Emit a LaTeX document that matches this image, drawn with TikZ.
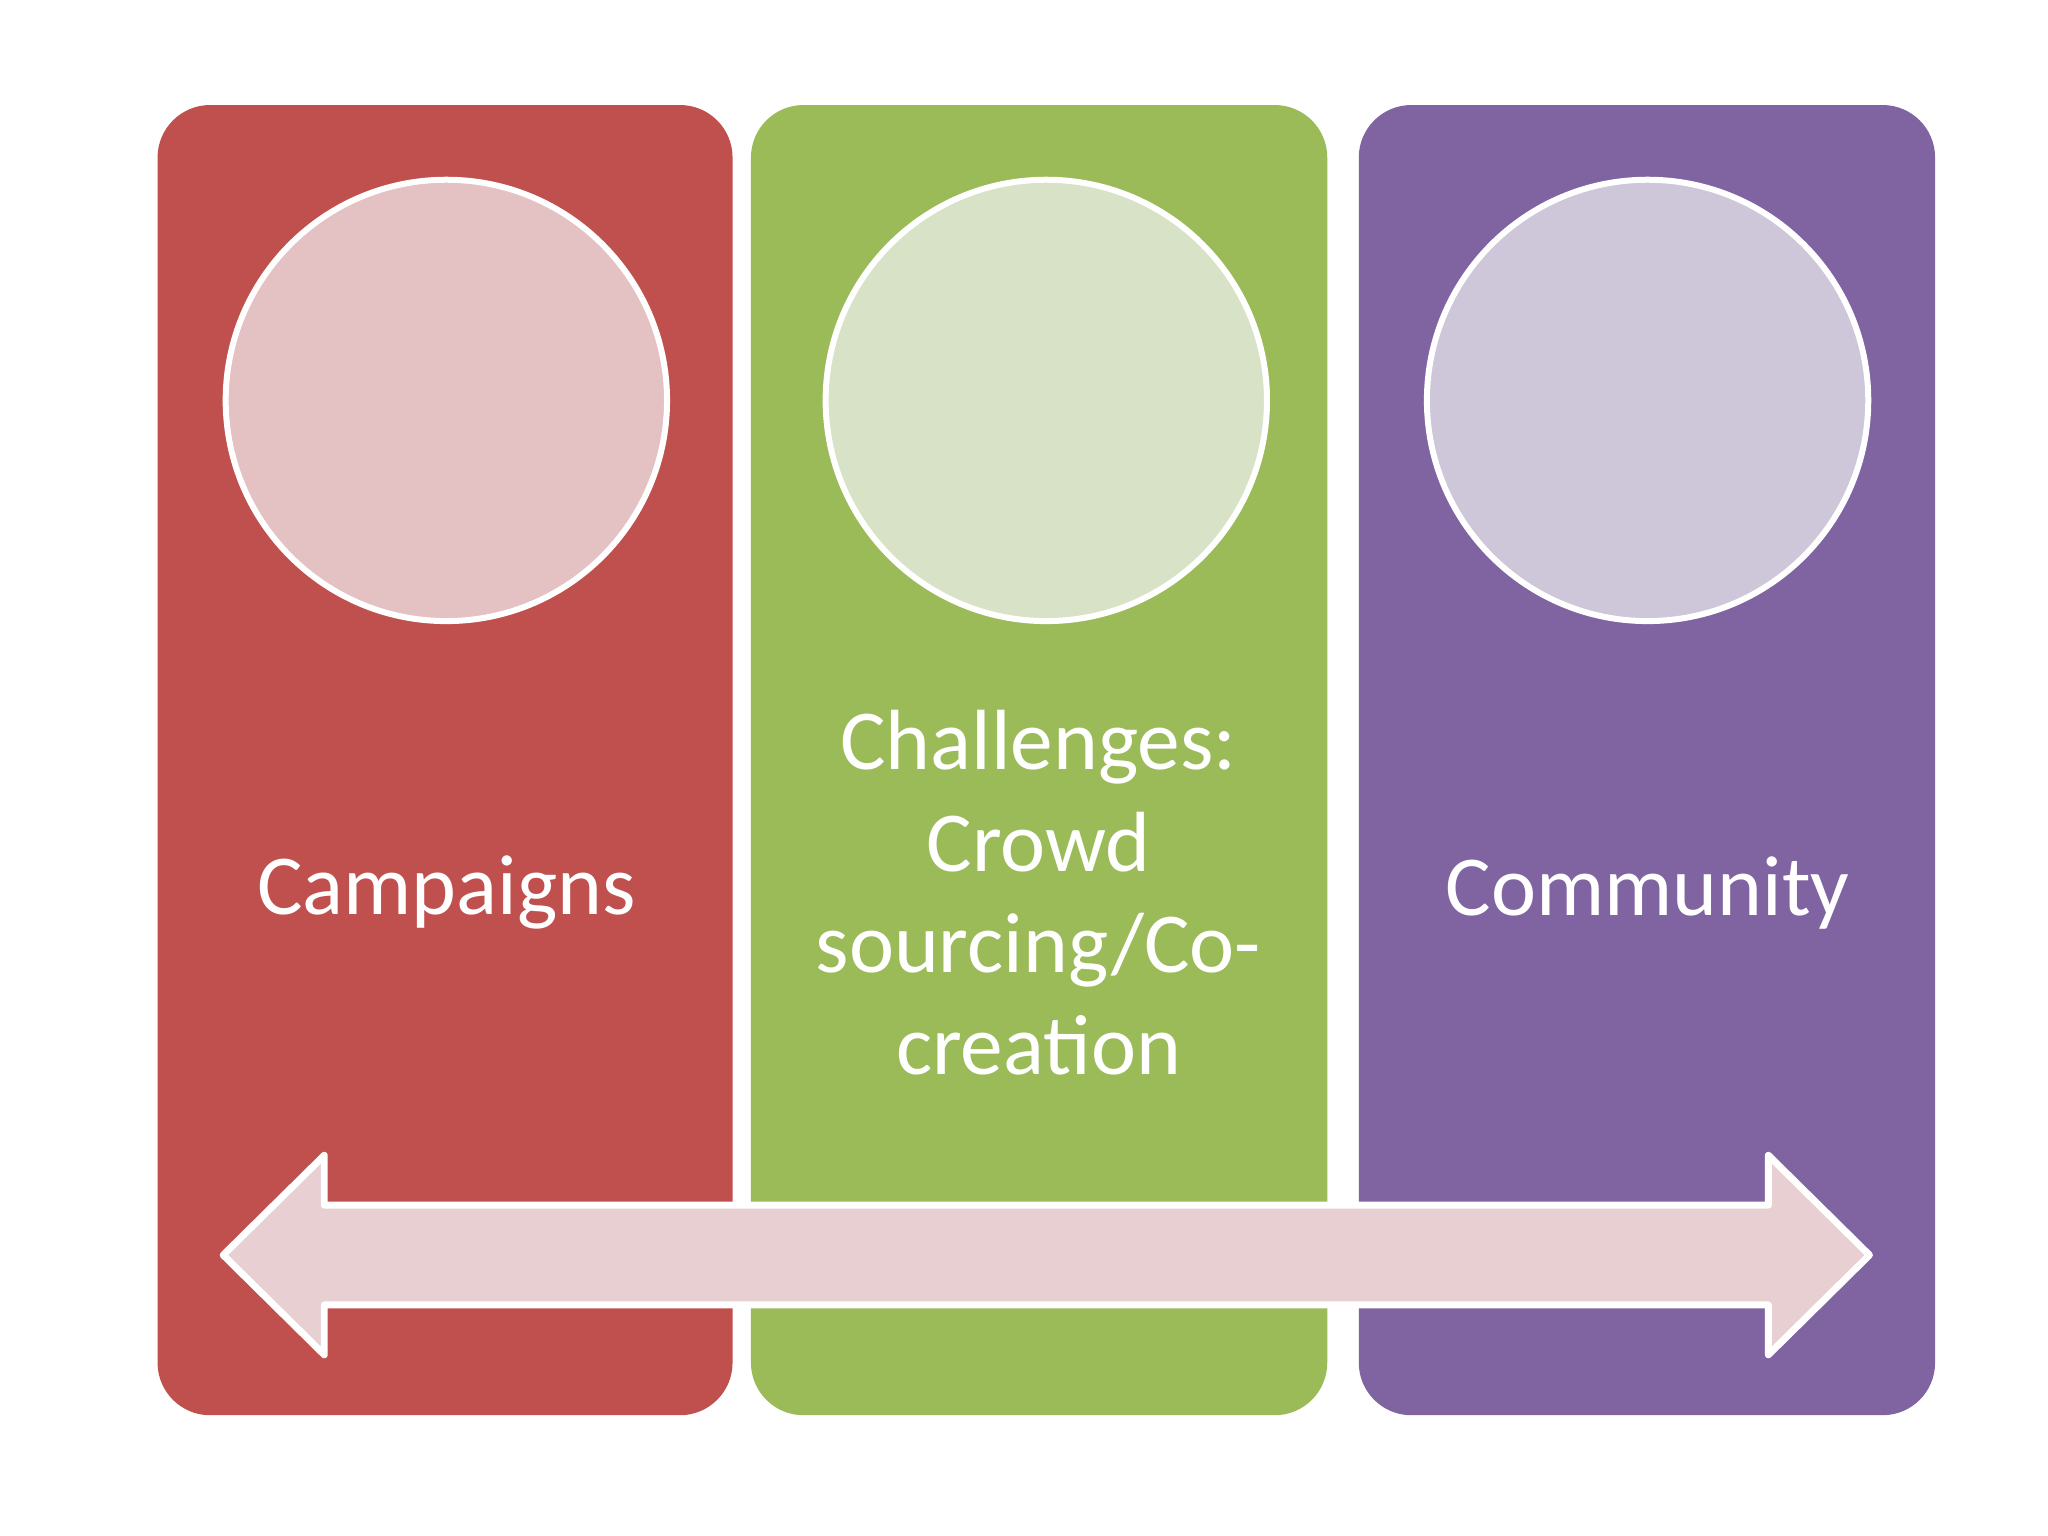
\documentclass[tikz,border=0pt]{standalone}
\usepackage{fontspec}
\setmainfont{Carlito}
\begin{document}
\begin{tikzpicture}[x=0.01cm,y=-0.01cm,
  panel/.style={rounded corners=0.4cm},
  circ/.style={circle,draw=white,line width=1.3pt,minimum size=3.36cm,inner sep=0pt},
  lbl/.style={text=white,font=\fontsize{18.5}{22}\selectfont,align=center}]
\useasboundingbox (0,0) rectangle (1560,1170);
\fill[white] (0,0) rectangle (1560,1170);
\fill[panel,fill={rgb,255:red,192;green,80;blue,77}] (120,80) rectangle (558,1078);
\fill[panel,fill={rgb,255:red,155;green,187;blue,89}] (572,80) rectangle (1011,1078);
\fill[panel,fill={rgb,255:red,128;green,100;blue,162}] (1035,80) rectangle (1474,1078);
\node[circ,fill={rgb,255:red,228;green,193;blue,194}] (c1) at (340,305) {};
\node[circ,fill={rgb,255:red,216;green,226;blue,198}] (c2) at (797,305) {};
\node[circ,fill={rgb,255:red,206;green,198;blue,217}] (c3) at (1255,305) {};
\node[lbl] (t1) at (340,680) {Campaigns};
\node[lbl] (t2) at (791,680) {Challenges:\\Crowd\\sourcing/Co-\\creation};
\node[lbl] (t3) at (1255,680) {Community};
\draw[white,line width=1.5pt,line join=round,fill={rgb,255:red,232;green,208;blue,210}]
 (170,956) -- (247,880) -- (247,918) -- (1347,918) -- (1347,880) -- (1424,956)
 -- (1347,1032) -- (1347,994) -- (247,994) -- (247,1032) -- cycle;
\end{tikzpicture}
\end{document}
